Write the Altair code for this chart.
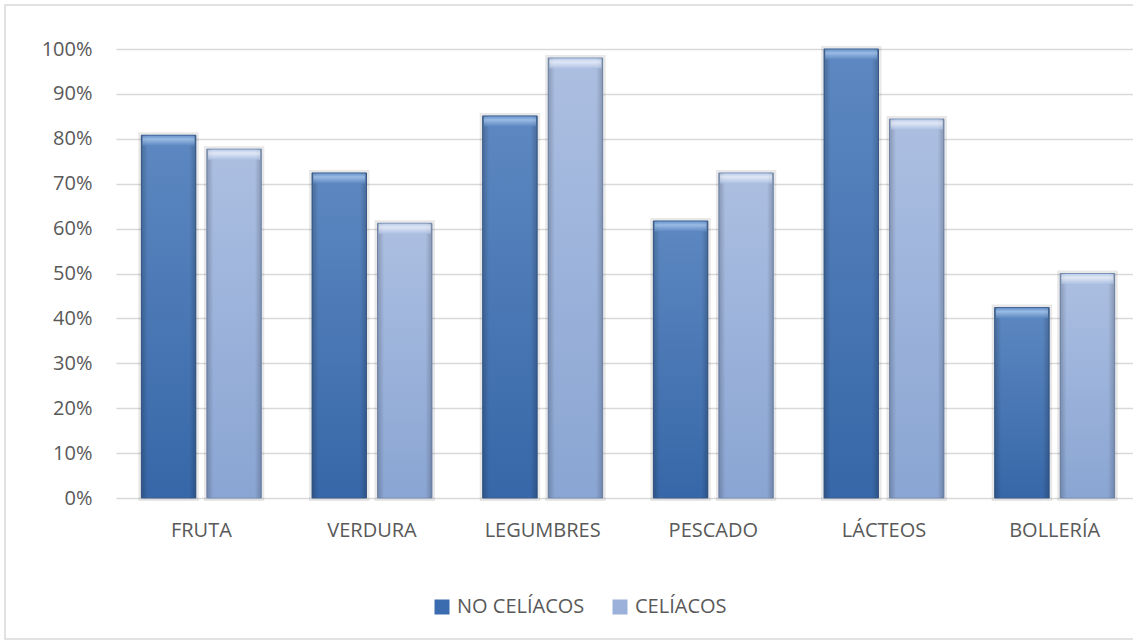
import altair as alt
import pandas as pd

# Share of each group that eats each food type
categories = ["FRUTA", "VERDURA", "LEGUMBRES", "PESCADO", "LÁCTEOS", "BOLLERÍA"]
series = ["NO CELÍACOS", "CELÍACOS"]
no_celiacos = [0.808, 0.724, 0.851, 0.617, 1.000, 0.424]
celiacos = [0.777, 0.612, 0.980, 0.724, 0.844, 0.500]
y_ticks = [0.0, 0.1, 0.2, 0.3, 0.4, 0.5, 0.6, 0.7, 0.8, 0.9, 1.0]

rows = []
for cat, a, b in zip(categories, no_celiacos, celiacos):
    rows.append({"alimento": cat, "grupo": series[0], "valor": a})
    rows.append({"alimento": cat, "grupo": series[1], "valor": b})
df = pd.DataFrame(rows)

FONT = "Open Sans"
TEXT = "#595959"
GRID = "#d9d9d9"


def vgrad(top, bottom, mid=None):
    stops = [alt.GradientStop(offset=0, color=top)]
    if mid is not None:
        stops.append(alt.GradientStop(offset=0.35, color=mid))
    stops.append(alt.GradientStop(offset=1, color=bottom))
    return alt.Gradient(gradient="linear", stops=stops, x1=0, x2=0, y1=0, y2=1)


x_enc = alt.X(
    "alimento:N", sort=categories, title=None,
    scale=alt.Scale(range=[0, 1024], paddingInner=0, paddingOuter=0),
    axis=alt.Axis(labelAngle=0, domain=False, ticks=False, grid=False,
                  labelPadding=22, labelFontSize=20, labelFont=FONT,
                  labelColor=TEXT),
)
xo_enc = alt.XOffset(
    "grupo:N", sort=series,
    scale=alt.Scale(domain=series, paddingInner=0.168, paddingOuter=0.387),
)
y_enc = alt.Y(
    "valor:Q", title=None,
    scale=alt.Scale(domain=[0, 1], nice=False),
    axis=alt.Axis(format=".0%", values=y_ticks, grid=True, gridColor=GRID,
                  gridWidth=1.5, domain=False, ticks=False, labelPadding=24,
                  labelFontSize=20, labelFont=FONT, labelColor=TEXT),
)

base = alt.Chart(df)

# Solid bars carry the legend and a soft dark halo acting as shadow
shadow = base.mark_bar(stroke="#000000", strokeOpacity=0.09, strokeWidth=6).encode(
    x=x_enc, xOffset=xo_enc, y=y_enc,
    color=alt.Color(
        "grupo:N", sort=series,
        scale=alt.Scale(domain=series, range=["#3b6cb0", "#9bb1d9"]),
        legend=alt.Legend(
            title=None, orient="none", legendX=316, legendY=548,
            direction="horizontal", labelFontSize=20, labelFont=FONT,
            labelColor=TEXT, symbolType="square", symbolSize=225,
            symbolStrokeWidth=0, labelOffset=5, columnPadding=25, padding=0,
        ),
    ),
)

body_no = base.transform_filter(alt.datum.grupo == series[0]).mark_bar(
    color=vgrad("#5d88c1", "#3767a8"), stroke="#3f6293", strokeWidth=1
).encode(x=x_enc, xOffset=xo_enc, y=y_enc)

body_ce = base.transform_filter(alt.datum.grupo == series[1]).mark_bar(
    color=vgrad("#acbfe1", "#8aa5d3"), stroke="#7d93ba", strokeWidth=1
).encode(x=x_enc, xOffset=xo_enc, y=y_enc)

# Darker left/right edges give the bars a rounded, bevelled look
edges = base.mark_bar(
    color=alt.Gradient(
        gradient="linear",
        stops=[alt.GradientStop(offset=0, color="rgba(0,0,0,0.20)"),
               alt.GradientStop(offset=0.12, color="rgba(0,0,0,0)"),
               alt.GradientStop(offset=0.88, color="rgba(0,0,0,0)"),
               alt.GradientStop(offset=1, color="rgba(0,0,0,0.20)")],
        x1=0, x2=1, y1=0, y2=0,
    )
).encode(x=x_enc, xOffset=xo_enc, y=y_enc)

# Light bevel strip on top of every bar
bevel_no = base.transform_filter(alt.datum.grupo == series[0]).mark_tick(
    size=52, thickness=10, yOffset=5.5,
    color=vgrad("#6f9ad0", "#5d88c1", mid="#b4d2f4"),
).encode(x=x_enc, xOffset=xo_enc, y=y_enc)

bevel_ce = base.transform_filter(alt.datum.grupo == series[1]).mark_tick(
    size=52, thickness=10, yOffset=5.5,
    color=vgrad("#c2d2ec", "#afc2e3", mid="#f6f9ff"),
).encode(x=x_enc, xOffset=xo_enc, y=y_enc)

# Outer chart frame
frame = alt.Chart(alt.Data(values=[{"k": 1}])).mark_rect(
    filled=False, stroke=GRID, strokeWidth=1.5
).encode(x=alt.value(-111), x2=alt.value(1030), y=alt.value(-44), y2=alt.value(590))

chart = alt.layer(
    frame, shadow, body_no, body_ce, edges, bevel_no, bevel_ce
).properties(
    width=1017,
    height=449,
    autosize=alt.AutoSizeParams(type="none"),
    padding={"left": 116, "top": 49, "right": 0, "bottom": 146},
    background="#ffffff",
).configure_view(stroke=None)

chart.save("out.html", embed_options={"renderer": "svg", "actions": False})
